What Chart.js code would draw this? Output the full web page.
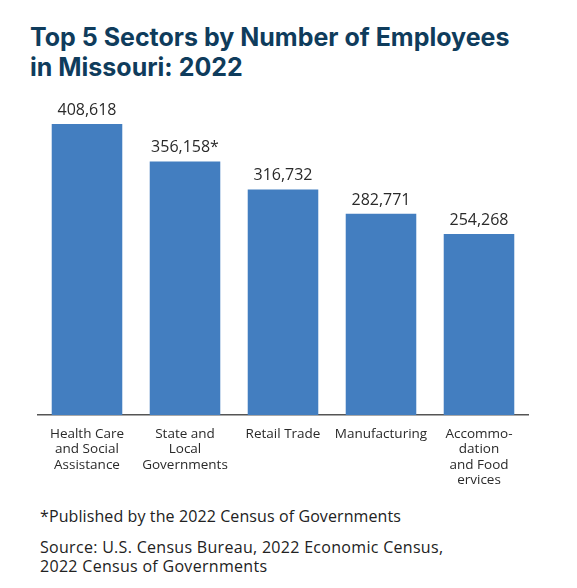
<!DOCTYPE html>
<html>
<head>
<meta charset="utf-8">
<script src="https://cdn.jsdelivr.net/npm/chart.js@4"></script>
<style>
  body { margin: 0; background: #fff; width: 577px; height: 588px; position: relative; overflow: hidden; font-family: "Open Sans", sans-serif; }
  .title { position: absolute; left: 30px; top: 22px; margin: 0; font-family: Inter, "Noto Sans", sans-serif; font-weight: 700; font-size: 25px; line-height: 30px; color: #0f3c5c; letter-spacing: 0; }
  .chart { position: absolute; left: 0; top: 90px; width: 577px; height: 401px; }
  .note { position: absolute; left: 40px; top: 505px; font-size: 16px; color: #222; letter-spacing: 0.1px; }
  .source { position: absolute; left: 40px; top: 538px; font-size: 16px; line-height: 19px; color: #222; letter-spacing: 0.3px; }
</style>
</head>
<body>
<h1 class="title">Top 5 Sectors by Number of Employees<br>in Missouri: 2022</h1>
<div class="chart"><canvas id="chart"></canvas></div>
<div class="note">*Published by the 2022 Census of Governments</div>
<div class="source">Source: U.S. Census Bureau, 2022 Economic Census,<br>2022 Census of Governments</div>
<script>
const sectors = [
    ['Health Care', 'and Social', 'Assistance'],
    ['State and', 'Local', 'Governments'],
    ['Retail Trade'],
    ['Manufacturing'],
    ['Accommo-', 'dation', 'and Food', 'ervices'],
];
const employees = [408618, 356158, 316732, 282771, 254268];
const valueLabels = ['408,618', '356,158*', '316,732', '282,771', '254,268'];

// draws the numbers above each bar
const barValues = {
    id: 'barValues',
    afterDatasetsDraw(chart) {
        const { ctx } = chart;
        const meta = chart.getDatasetMeta(0);
        ctx.save();
        ctx.font = '16px "Open Sans", sans-serif';
        ctx.fillStyle = '#2a2a2a';
        ctx.textAlign = 'center';
        ctx.textBaseline = 'alphabetic';
        meta.data.forEach((bar, i) => {
            ctx.fillText(valueLabels[i], bar.x, bar.y - 9);
        });
        ctx.restore();
    }
};

var ctx = document.getElementById('chart').getContext('2d');
window.sectorsChart = new Chart(ctx, {
    type: 'bar',
    data: {
        labels: sectors,
        datasets: [{
            data: employees,
            backgroundColor: '#437ec0',
            categoryPercentage: 1,
            barPercentage: 0.72,
        }]
    },
    options: {
        responsive: true,
        maintainAspectRatio: false,
        animation: false,
        layout: { padding: { left: 38, right: 49, top: 0, bottom: 0 } },
        scales: {
            x: {
                grid: { display: false },
                border: { display: true, color: '#555', width: 1.5 },
                ticks: {
                    color: '#2a2a2a',
                    font: { family: '"Open Sans", sans-serif', size: 13.5, lineHeight: 1.15 },
                    padding: 3,
                    maxRotation: 0,
                    autoSkip: false,
                }
            },
            y: {
                display: false,
                min: 0,
                max: 408618 * 324 / 290,
            }
        },
        plugins: {
            legend: { display: false },
            tooltip: { enabled: false },
        }
    },
    plugins: [barValues]
});
</script>
</body>
</html>
